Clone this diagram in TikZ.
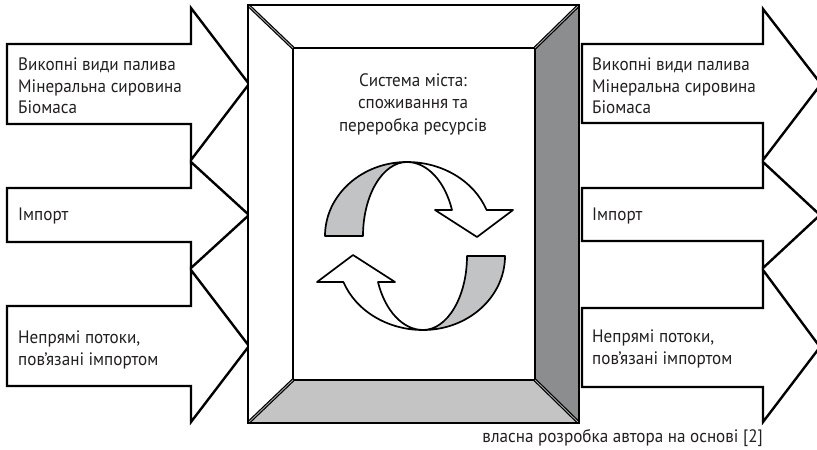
\documentclass[tikz,border=0pt]{standalone}
\usepackage{fontspec}
\setmainfont{PT Sans}[FakeStretch=0.95]
\definecolor{darkside}{HTML}{8C8D8F}
\definecolor{lightside}{HTML}{C4C4C4}
\definecolor{bandgrey}{HTML}{C2C3C4}
\definecolor{txt}{HTML}{231F20}
\tikzset{
  flowarrow/.style={draw=black, line width=2.4pt, fill=white, line join=miter},
  bevel/.style={draw=black, line width=1.2pt, double=gray!70, double distance=0.9pt},
  edge/.style={draw=black, line width=2.5pt},
  lbl/.style={font=\fontsize{18}{21.5}\selectfont, text=txt, align=left, anchor=west, inner sep=0pt},
  ctext/.style={font=\fontsize{18}{22.5}\selectfont, text=txt, align=center, inner sep=0pt},
  band/.style={draw=black, line width=1.7pt, line join=round},
}
\begin{document}
\begin{tikzpicture}[x=1pt,y=1pt]
\useasboundingbox (0,0) rectangle (817,-450);
% left arrows
\draw[flowarrow] (7,-44) -- (191,-44) -- (191,-8) -- (249,-84) -- (191,-160) -- (191,-124) -- (7,-124) -- cycle;
\draw[flowarrow] (7,-188) -- (191,-188) -- (191,-162) -- (249,-215) -- (191,-268) -- (191,-242) -- (7,-242) -- cycle;
\draw[flowarrow] (7,-306) -- (191,-306) -- (191,-270) -- (249,-346) -- (191,-422) -- (191,-386) -- (7,-386) -- cycle;
% right arrows
\draw[flowarrow] (582,-44) -- (763,-44) -- (763,-9) -- (821,-84) -- (763,-160) -- (763,-123) -- (582,-123) -- cycle;
\draw[flowarrow] (582,-188) -- (763,-188) -- (763,-162) -- (820,-215) -- (763,-268) -- (763,-241) -- (582,-241) -- cycle;
\draw[flowarrow] (582,-308) -- (763,-308) -- (763,-270) -- (820,-347) -- (763,-422) -- (763,-387) -- (582,-387) -- cycle;
% central box
\coordinate (o1) at (248,-5);
\coordinate (o2) at (579,-5);
\coordinate (o3) at (579,-423);
\coordinate (o4) at (248,-423);
\coordinate (i1) at (293,-48);
\coordinate (i2) at (535,-48);
\coordinate (i3) at (535,-380);
\coordinate (i4) at (293,-380);
\fill[white] (o1) -- (o2) -- (i2) -- (i1) -- cycle;
\fill[white] (o1) -- (i1) -- (i4) -- (o4) -- cycle;
\fill[darkside] (o2) -- (o3) -- (i3) -- (i2) -- cycle;
\fill[lightside] (o4) -- (i4) -- (i3) -- (o3) -- cycle;
\fill[white] (i1) rectangle (i3);
\draw[edge] (i1) rectangle (i3);
\draw[bevel] (o1) -- (i1);
\draw[bevel] (o2) -- (i2);
\draw[bevel] (o3) -- (i3);
\draw[bevel] (o4) -- (i4);
\draw[edge] (o1) rectangle (o3);
% cycle arrows (top)
\filldraw[band, fill=bandgrey] (325,-236) arc[start angle=180, end angle=90, x radius=82, y radius=74]
  arc[start angle=90, end angle=180, x radius=44, y radius=74] -- cycle;
\filldraw[band, fill=white] (407,-162) arc[start angle=90, end angle=20.6, x radius=85, y radius=74]
  -- (513,-210) -- (477,-237) -- (435,-210) -- (452,-210)
  arc[start angle=20.6, end angle=90, x radius=48, y radius=74] -- cycle;
% cycle arrows (bottom)
\filldraw[band, fill=bandgrey] (505,-256) arc[start angle=0, end angle=-90, x radius=82, y radius=74]
  arc[start angle=270, end angle=360, x radius=44, y radius=74] -- cycle;
\filldraw[band, fill=white] (423,-330) arc[start angle=270, end angle=200.6, x radius=85, y radius=74]
  -- (317,-282) -- (353,-255) -- (395,-282) -- (378,-282)
  arc[start angle=200.6, end angle=270, x radius=48, y radius=74] -- cycle;
% texts
\node[lbl] (l1) at (18,-86) {Викопні види палива\\Мінеральна сировина\\Біомаса};
\node[lbl] (l2) at (18,-216) {Імпорт};
\node[lbl] (l3) at (18,-350) {Непрямі потоки,\\пов’язані імпортом};
\node[lbl] (r1) at (592,-86) {Викопні види палива\\Мінеральна сировина\\Біомаса};
\node[lbl] (r2) at (592,-216) {Імпорт};
\node[lbl] (r3) at (592,-349) {Непрямі потоки,\\пов’язані імпортом};
\node[ctext] (c) at (413,-104) {Система міста:\\споживання та\\переробка ресурсів};
\node[lbl, anchor=east] (cap) at (763,-438) {власна розробка автора на основі [2]};
\end{tikzpicture}
\end{document}
